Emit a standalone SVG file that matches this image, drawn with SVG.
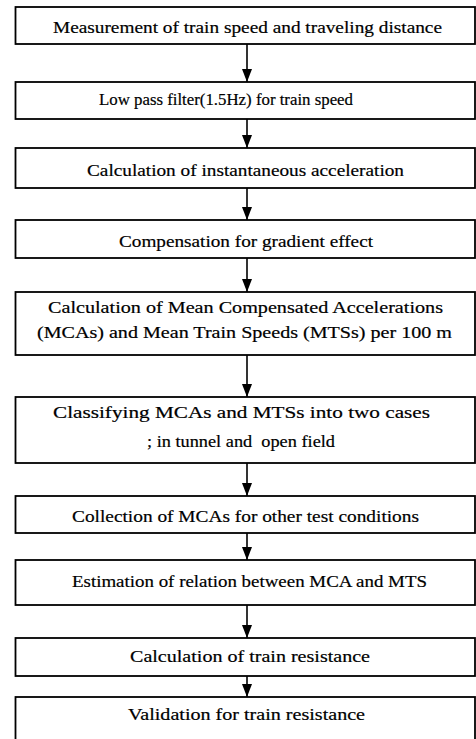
<svg xmlns="http://www.w3.org/2000/svg" width="476" height="739" viewBox="0 0 476 739">
<style>
.box{fill:#fff;stroke:#000;stroke-width:1.8}
.t{font-family:"Liberation Serif","Times New Roman",serif;font-size:17px;fill:#000;stroke:#000;stroke-width:0.2}
.c{stroke:#000;stroke-width:1.6;fill:none}
</style>
<defs>
<marker id="a" markerWidth="13" markerHeight="10" refX="13" refY="5" orient="auto" markerUnits="userSpaceOnUse" viewBox="0 0 13 10">
<path d="M0,0 L13,5 L0,10 Z" fill="#000"/>
</marker>
</defs>
<rect width="476" height="739" fill="#fff"/>
<g id="connectors">
<line class="c" x1="247" y1="44" x2="247" y2="82" marker-end="url(#a)"/>
<line class="c" x1="247" y1="119" x2="247" y2="148" marker-end="url(#a)"/>
<line class="c" x1="247" y1="188" x2="247" y2="220" marker-end="url(#a)"/>
<line class="c" x1="247" y1="258" x2="247" y2="292" marker-end="url(#a)"/>
<line class="c" x1="247" y1="355" x2="247" y2="397" marker-end="url(#a)"/>
<line class="c" x1="247" y1="463" x2="247" y2="496" marker-end="url(#a)"/>
<line class="c" x1="247" y1="533" x2="247" y2="560" marker-end="url(#a)"/>
<line class="c" x1="247" y1="605" x2="247" y2="638" marker-end="url(#a)"/>
<line class="c" x1="247" y1="676" x2="247" y2="697" marker-end="url(#a)"/>
</g>
<g id="n1"><rect class="box" x="15.5" y="7" width="459.5" height="37"/>
<text class="t" x="53" y="33" textLength="389" lengthAdjust="spacingAndGlyphs">Measurement of train speed and traveling distance</text></g>
<g id="n2"><rect class="box" x="15.5" y="82" width="459.5" height="37"/>
<text class="t" x="99" y="105" textLength="254" lengthAdjust="spacingAndGlyphs">Low pass filter(1.5Hz) for train speed</text></g>
<g id="n3"><rect class="box" x="15.5" y="148" width="459.5" height="40"/>
<text class="t" x="87" y="176" textLength="317" lengthAdjust="spacingAndGlyphs">Calculation of instantaneous acceleration</text></g>
<g id="n4"><rect class="box" x="15.5" y="220" width="459.5" height="38"/>
<text class="t" x="119" y="247" textLength="254" lengthAdjust="spacingAndGlyphs">Compensation for gradient effect</text></g>
<g id="n5"><rect class="box" x="15.5" y="292" width="459.5" height="63"/>
<text class="t" x="48" y="313" textLength="395" lengthAdjust="spacingAndGlyphs">Calculation of Mean Compensated Accelerations</text>
<text class="t" x="37" y="338" textLength="415" lengthAdjust="spacingAndGlyphs">(MCAs) and Mean Train Speeds (MTSs) per 100 m</text></g>
<g id="n6"><rect class="box" x="15.5" y="397" width="459.5" height="66"/>
<text class="t" x="53" y="418" textLength="377" lengthAdjust="spacingAndGlyphs">Classifying MCAs and MTSs into two cases</text>
<text class="t" x="147" y="447" textLength="188" lengthAdjust="spacingAndGlyphs" xml:space="preserve">; in tunnel and  open field</text></g>
<g id="n7"><rect class="box" x="15.5" y="496" width="459.5" height="37"/>
<text class="t" x="72" y="522" textLength="347" lengthAdjust="spacingAndGlyphs">Collection of MCAs for other test conditions</text></g>
<g id="n8"><rect class="box" x="15.5" y="560" width="459.5" height="45"/>
<text class="t" x="72" y="587" textLength="355" lengthAdjust="spacingAndGlyphs">Estimation of relation between MCA and MTS</text></g>
<g id="n9"><rect class="box" x="15.5" y="638" width="459.5" height="38"/>
<text class="t" x="130" y="662" textLength="240" lengthAdjust="spacingAndGlyphs">Calculation of train resistance</text></g>
<g id="n10"><rect class="box" x="15.5" y="697" width="459.5" height="50"/>
<text class="t" x="128" y="720" textLength="237" lengthAdjust="spacingAndGlyphs">Validation for train resistance</text></g>
</svg>
